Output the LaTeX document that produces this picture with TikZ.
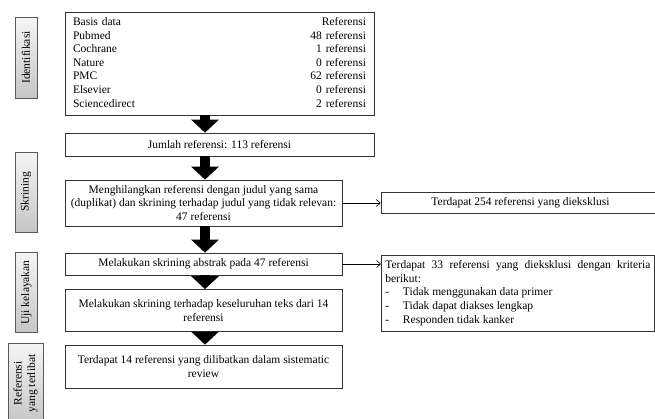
\documentclass[tikz,border=0pt]{standalone}
\usepackage{fontspec}
\setmainfont{Liberation Serif}
\usetikzlibrary{arrows.meta,positioning}

\begin{document}
\begin{tikzpicture}[
  x=1pt, y=-1pt,
  font=\fontsize{11.5}{13.6}\selectfont,
  box/.style={draw=black!80, line width=0.7pt, align=center, inner sep=2pt, minimum width=277pt},
  stage/.style={draw=black!65, line width=0.7pt, rotate=90, top color=gray!8, bottom color=gray!45, align=center, inner sep=1pt},
  excl/.style={draw=black!80, line width=0.7pt, minimum width=279pt, inner sep=3pt},
  bigarr/.style={line width=10.5pt, -{Triangle[length=13pt,width=27pt]}},
  arr/.style={-{Straight Barb[length=4pt,width=7pt]}, line width=0.6pt}
]
\useasboundingbox (0,0) rectangle (655,418);

% tahapan
\node[stage, minimum width=81pt, minimum height=22pt] (ident) at (26,57.5) {Identifikasi};
\node[stage, minimum width=80pt, minimum height=22pt] (skrin) at (26,192) {Skrining};
\node[stage, minimum width=80pt, minimum height=22pt] (uji) at (26.5,292.5) {Uji kelayakan};
\node[stage, minimum width=81pt, minimum height=35pt] (terlibat) at (25.5,383.5) {Referensi\\yang terlibat};

% alur utama
\node[box, align=left, inner xsep=8pt, text width=293pt, minimum height=103pt] (src) at (219.5,63.5) {%
  \begin{tabular*}{\linewidth}{@{}l@{\extracolsep{\fill}}r@{}}
  Basis data & Referensi\\
  Pubmed & 48 referensi\\
  Cochrane & 1 referensi\\
  Nature & 0 referensi\\
  PMC & 62 referensi\\
  Elsevier & 0 referensi\\
  Sciencedirect & 2 referensi
  \end{tabular*}};
\node[box, minimum width=309pt, minimum height=23pt] (jml) at (219.5,144.5) {Jumlah referensi: 113 referensi};
\node[box, minimum height=46pt] (dup) at (203.5,203) {Menghilangkan referensi dengan judul yang sama\\(duplikat) dan skrining terhadap judul yang tidak relevan:\\47 referensi};
\node[box, minimum height=22pt] (abs) at (203.5,264) {Melakukan skrining abstrak pada 47 referensi};
\node[box, minimum height=42pt] (full) at (203.5,310.5) {Melakukan skrining terhadap keseluruhan teks dari 14\\referensi};
\node[box, minimum height=43pt] (incl) at (203.5,366.5) {Terdapat 14 referensi yang dilibatkan dalam sistematic\\review};

% eksklusi
\node[excl, minimum height=21pt] (ex1) at (520.5,203) {Terdapat 254 referensi yang dieksklusi};
\node[excl, anchor=west, minimum width=0pt, minimum height=76pt, inner xsep=4pt, text width=265pt, align=justify] (ex2) at (381,293) {%
  Terdapat 33 referensi yang dieksklusi dengan kriteria berikut:\\
  -\hspace{1.2em}Tidak menggunakan data primer\\
  -\hspace{1.2em}Tidak dapat diakses lengkap\\
  -\hspace{1.2em}Responden tidak kanker};

\coordinate (ax) at (205,0);
\draw[bigarr] (src.south -| ax) -- (jml.north -| ax);
\draw[bigarr] (jml.south -| ax) -- (dup.north -| ax);
\draw[bigarr] (dup.south -| ax) -- (abs.north -| ax);
\draw[bigarr] (abs.south -| ax) -- (full.north -| ax);
\draw[bigarr] (full.south -| ax) -- (incl.north -| ax);

\draw[arr] (dup.east) -- (ex1.west);
\draw[arr] (abs.east) -- (abs.east -| ex2.west);
\end{tikzpicture}
\end{document}
